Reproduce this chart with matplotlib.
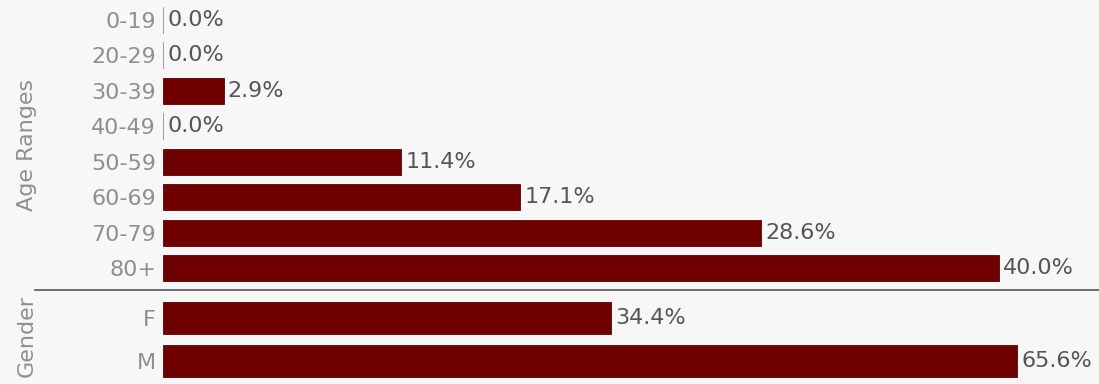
import matplotlib
matplotlib.use("Agg")
import matplotlib.pyplot as plt

age_labels = ["0-19", "20-29", "30-39", "40-49", "50-59", "60-69", "70-79", "80+"]
age_values = [0.0, 0.0, 2.9, 0.0, 11.4, 17.1, 28.6, 40.0]
gender_labels = ["F", "M"]
gender_values = [34.4, 65.6]

BAR = "#6e0000"
BG = "#f7f7f7"
TICK = "#8f8f8f"
VAL = "#555555"
FS = 16
plt.rcParams['font.family'] = ['DejaVu Sans']

W, H = 1099, 384
fig = plt.figure(figsize=(W / 100, H / 100), dpi=100, facecolor=BG)

def px_axes(x0, y0, x1, y1):
    return fig.add_axes([x0 / W, 1 - y1 / H, (x1 - x0) / W, (y1 - y0) / H])

def draw(ax, labels, values, xmax, height):
    ax.set_facecolor(BG)
    ys = list(range(len(labels)))
    ax.barh(ys, values, height=height, color=BAR, edgecolor="#5a0000", linewidth=0.6)
    for y, v in zip(ys, values):
        if v == 0:
            ax.vlines(0, y - height / 2, y + height / 2, color="#b0b0b0", lw=1.2)
        ax.annotate(f"{v:.1f}%", (v, y), xytext=(3, 0), textcoords="offset points",
                    va="center", ha="left", fontsize=FS, color=VAL)
    ax.set_xlim(0, xmax)
    ax.set_ylim(len(labels) - 0.5, -0.5)
    ax.set_yticks(ys)
    ax.set_yticklabels(labels, fontsize=FS, color=TICK)
    ax.tick_params(axis="y", length=0, pad=5)
    ax.set_xticks([])
    for s in ax.spines.values():
        s.set_visible(False)

ax1 = px_axes(163, 2, 1099, 286)
draw(ax1, age_labels, age_values, (1099 - 163) / 20.9, 0.73)
ax2 = px_axes(163, 296.5, 1099, 382.5)
draw(ax2, gender_labels, gender_values, (1099 - 163) / 13.02, 0.74)

fig.add_artist(plt.Line2D([35 / W, 1.0], [1 - 290 / H, 1 - 290 / H],
                          color="#555555", lw=1.2))
fig.text(27 / W, 1 - 145 / H, "Age Ranges", rotation=90, va="center", ha="center",
         fontsize=FS, color=TICK)
fig.text(27 / W, 1 - 336 / H, "Gender", rotation=90, va="center", ha="center",
         fontsize=FS, color=TICK)

fig.savefig("out.png", dpi=100, facecolor=BG)
